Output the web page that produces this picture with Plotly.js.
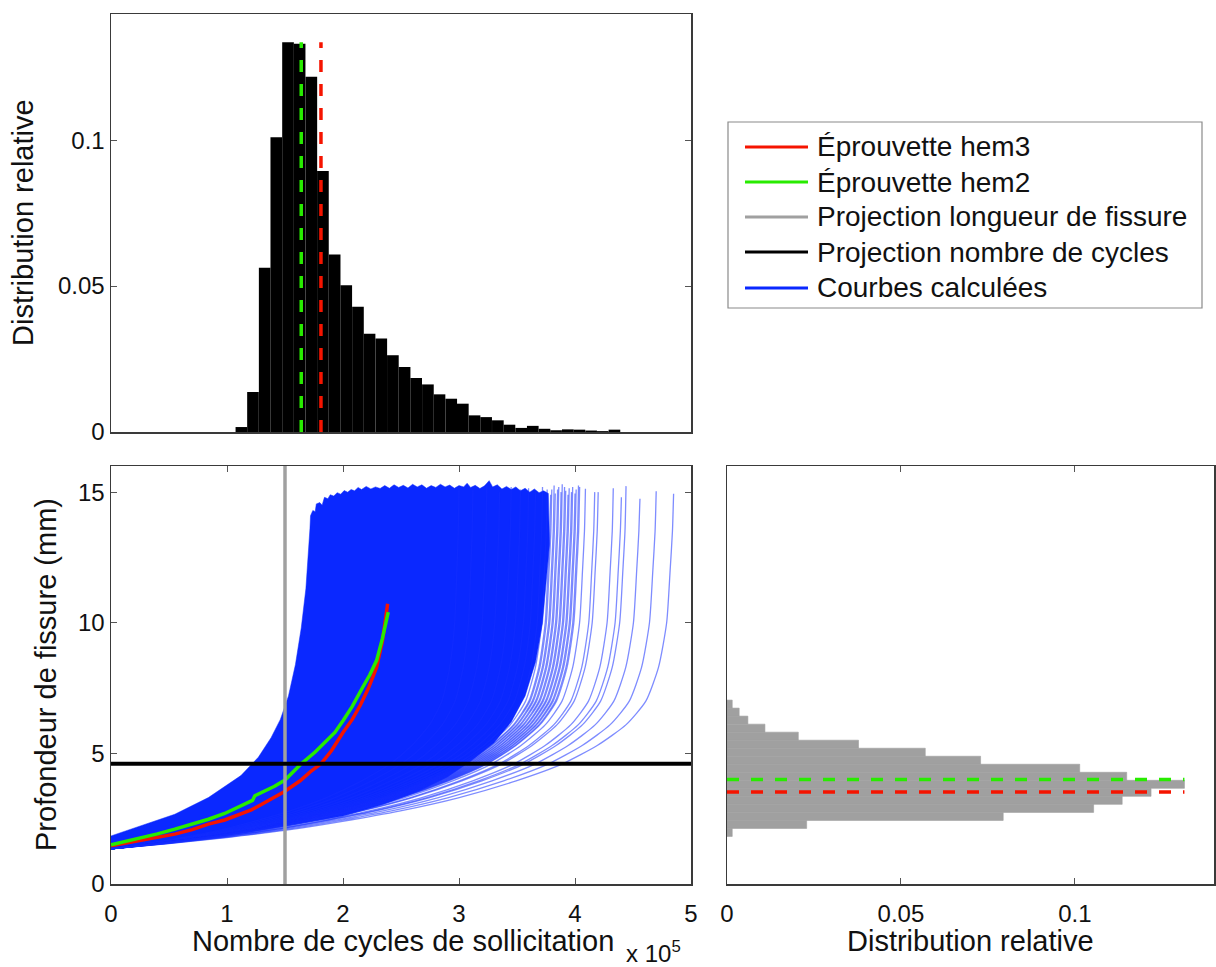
<!DOCTYPE html>
<html>
<head>
<meta charset="utf-8">
<script src="https://cdn.plot.ly/plotly-3.0.1.min.js"></script>
<style>html,body{margin:0;padding:0;background:#fff;}#chart{width:1216px;height:967px;}</style>
</head>
<body>
<div id="chart"></div>
<script>
// ---------- DATA (cycles in units of 1e5, depth in mm) ----------
// Top histogram: distribution of cycles at which curves reach the projection depth
const topBinCenters1e5 = [1.124,1.224,1.325,1.425,1.526,1.626,1.727,1.827,1.928,2.028,2.129,2.229,2.330,2.430,2.531,2.631,2.732,2.832,2.933,3.033,3.134,3.234,3.335,3.435,3.536,3.636,3.737,3.837,3.938,4.038,4.139,4.239,4.340];
const topRelDist = [0.0017,0.0137,0.0563,0.1010,0.1335,0.1330,0.1217,0.0894,0.0608,0.0503,0.0429,0.0337,0.0320,0.0263,0.0223,0.0185,0.0163,0.0129,0.0114,0.0097,0.0057,0.0051,0.0040,0.0025,0.0014,0.0021,0.0011,0.0006,0.0009,0.0008,0.0005,0.0003,0.0008];
const topBinWidth1e5 = 0.1005;

// Right histogram: distribution of crack depth at the projection cycle count
const rightBinCentersMm = [1.974,2.281,2.588,2.895,3.202,3.509,3.816,4.123,4.430,4.737,5.044,5.351,5.658,5.965,6.272,6.579,6.886];
const rightRelDist = [0.0015,0.0229,0.0794,0.1054,0.1136,0.1219,0.1315,0.1149,0.1014,0.0729,0.0570,0.0378,0.0205,0.0109,0.0060,0.0035,0.0015];
const rightBinWidthMm = 0.307;

// Projections
const projectionCycles1e5 = 1.5;   // gray vertical line
const projectionDepthMm = 4.6;     // black horizontal line
const hem3CyclesAtDepth = 1.81, hem2CyclesAtDepth = 1.64;
const hem3DepthAtCycles = 3.52, hem2DepthAtCycles = 4.00;

// Specimen curves
const hem3Cycles = [0,0.13,0.26,0.40,0.55,0.70,0.84,0.98,1.12,1.21,1.30,1.41,1.50,1.63,1.72,1.81,1.90,2.00,2.08,2.15,2.22,2.29,2.34,2.385];
const hem3Depth  = [1.46,1.56,1.68,1.78,1.91,2.08,2.29,2.45,2.67,2.84,3.05,3.31,3.55,3.95,4.30,4.60,5.10,5.80,6.30,6.85,7.50,8.30,9.30,10.73];
const hem2Cycles = [0,0.13,0.26,0.40,0.55,0.70,0.84,0.98,1.12,1.18,1.22,1.24,1.41,1.50,1.64,1.76,1.86,1.93,2.00,2.08,2.17,2.23,2.29,2.34,2.39];
const hem2Depth  = [1.50,1.63,1.78,1.92,2.10,2.28,2.48,2.70,2.99,3.10,3.20,3.38,3.74,3.98,4.60,5.05,5.49,5.80,6.25,6.80,7.53,8.00,8.56,9.40,10.41];

// Envelope of the dense bundle of calculated curves (outline)
const bundleCycles = [0,0.26,0.55,0.84,1.12,1.27,1.38,1.46,1.53,1.59,1.64,1.68,1.70,1.715,1.72,
  1.74,1.76,1.77,1.80,1.82,1.84,1.87,1.89,1.92,1.95,1.98,2.01,2.04,2.07,2.10,2.13,2.16,2.20,2.24,2.28,2.32,2.36,2.40,2.44,2.48,2.52,2.56,2.60,2.64,2.68,2.72,2.76,2.80,2.84,2.88,2.92,2.96,3.00,3.04,3.07,3.10,3.14,3.18,3.22,3.26,3.29,3.33,3.37,3.41,3.45,3.49,3.53,3.57,3.61,3.65,3.69,3.73,3.77,
  3.78,3.76,3.72,3.66,3.57,3.45,3.30,3.10,2.90,2.65,2.35,2.00,1.50,1.00,0.50,0];
const bundleDepth = [1.84,2.23,2.67,3.31,4.15,4.85,5.60,6.30,7.20,8.40,9.80,11.30,12.50,13.60,14.10,
  14.30,14.25,14.55,14.60,14.50,14.80,14.75,14.90,14.85,14.98,14.92,15.06,15.00,15.10,15.05,15.18,15.10,15.22,15.12,15.20,15.14,15.25,15.15,15.28,15.18,15.26,15.16,15.30,15.20,15.28,15.15,15.25,15.18,15.30,15.20,15.27,15.15,15.25,15.20,15.34,15.18,15.26,15.14,15.24,15.44,15.20,15.28,15.12,15.22,15.10,15.20,15.05,15.15,15.00,15.12,14.98,15.05,14.95,
  13.0,12.0,10.0,8.5,7.2,6.2,5.4,4.7,4.1,3.55,3.05,2.60,2.22,1.88,1.62,1.38];

// Shape of the slowest calculated curve
const slowCurveCycles = [0,0.5,1.0,1.5,2.0,2.5,3.0,3.5,3.9,4.2,4.45,4.62,4.73,4.80,4.83,4.85,4.86];
const slowCurveDepth  = [1.35,1.55,1.78,2.05,2.40,2.80,3.30,3.95,4.60,5.30,6.10,7.00,8.30,10.0,12.0,13.5,14.9];
// Individually visible curves on the right of the bundle: end cycles and end depth
const fringeEndCycles = [3.00,3.12,3.24,3.35,3.45,3.53,3.60,3.66,3.72,3.76,3.79,3.80,3.82,3.83,3.85,3.86,3.88,3.89,3.91,3.92,3.94,3.95,3.97,3.98,4.00,4.01,4.03,4.04,4.09,4.17,4.20,4.33,4.40,4.44,4.56,4.70,4.85];
const fringeEndDepth  = [15.2,15.1,15.25,15.0,15.2,15.1,15.15,15.0,15.2,15.1,14.9,15.1,15.25,14.95,15.1,15.2,15.0,15.3,15.2,15.05,14.9,15.15,15.0,15.2,14.95,15.1,15.25,15.2,15.13,15.0,15.0,15.15,14.8,15.23,14.75,15.03,14.94];

const legendLabels = ['Éprouvette hem3','Éprouvette hem2','Projection longueur de fissure','Projection nombre de cycles','Courbes calculées'];

// ---------- STYLE ----------
const RED = 'rgb(245,20,0)', GREEN = 'rgb(40,235,0)', GRAY = 'rgb(160,160,160)', BLUE = 'rgb(10,40,255)';
const FONT = 'Liberation Sans, Arial, Helvetica, sans-serif';
const W = 1216, H = 967;
const px = v => v / W, py = v => 1 - v / H;

const traces = [];
// Blue bundle
traces.push({type:'scatter', mode:'lines', x:bundleCycles, y:bundleDepth, fill:'toself',
  fillcolor:BLUE, line:{color:BLUE, width:0.5}, xaxis:'x', yaxis:'y', showlegend:false, hoverinfo:'skip'});
const tEnd = slowCurveCycles[slowCurveCycles.length-1];
fringeEndCycles.forEach((e, i) => {
  const xs = slowCurveCycles.map(c => c * e / tEnd);
  const ys = slowCurveDepth.slice(); ys[ys.length-1] = fringeEndDepth[i];
  traces.push({type:'scatter', mode:'lines', x:xs, y:ys, line:{color:'rgba(20,45,255,0.55)', width:1.3, shape:'spline', smoothing:0.6},
    xaxis:'x', yaxis:'y', showlegend:false, hoverinfo:'skip'});
});
// Specimen curves
traces.push({type:'scatter', mode:'lines', x:hem3Cycles, y:hem3Depth, line:{color:RED, width:3.5}, xaxis:'x', yaxis:'y', showlegend:false});
traces.push({type:'scatter', mode:'lines', x:hem2Cycles, y:hem2Depth, line:{color:GREEN, width:3.5}, xaxis:'x', yaxis:'y', showlegend:false});

// Top histogram
traces.push({type:'bar', x:topBinCenters1e5, y:topRelDist, width:topBinWidth1e5, marker:{color:'black', line:{width:0}},
  xaxis:'x2', yaxis:'y2', showlegend:false});
const topMax = Math.max(...topRelDist);
traces.push({type:'scatter', mode:'lines', x:[hem2CyclesAtDepth,hem2CyclesAtDepth], y:[0,topMax], line:{color:GREEN, width:3.5, dash:'12px,12px'}, xaxis:'x2', yaxis:'y2', showlegend:false});
traces.push({type:'scatter', mode:'lines', x:[hem3CyclesAtDepth,hem3CyclesAtDepth], y:[0,topMax], line:{color:RED, width:3.5, dash:'12px,12px'}, xaxis:'x2', yaxis:'y2', showlegend:false});

// Right histogram
traces.push({type:'bar', orientation:'h', y:rightBinCentersMm, x:rightRelDist, width:rightBinWidthMm, marker:{color:GRAY, line:{color:GRAY, width:0.6}},
  xaxis:'x3', yaxis:'y3', showlegend:false});
const rightMax = Math.max(...rightRelDist);
traces.push({type:'scatter', mode:'lines', y:[hem2DepthAtCycles,hem2DepthAtCycles], x:[0,rightMax], line:{color:GREEN, width:3.5, dash:'12px,12px'}, xaxis:'x3', yaxis:'y3', showlegend:false});
traces.push({type:'scatter', mode:'lines', y:[hem3DepthAtCycles,hem3DepthAtCycles], x:[0,rightMax], line:{color:RED, width:3.5, dash:'12px,12px'}, xaxis:'x3', yaxis:'y3', showlegend:false});

const axBase = {showline:true, linecolor:'#3a3a3a', linewidth:1.5, mirror:'ticks', ticks:'inside', ticklen:6, tickcolor:'#555',
  showgrid:false, zeroline:false, tickfont:{family:FONT, size:24, color:'#111'}, fixedrange:true};

const shapes = [
  {type:'line', xref:'x', yref:'y domain', x0:projectionCycles1e5, x1:projectionCycles1e5, y0:0, y1:1, line:{color:GRAY, width:3.5}},
  {type:'line', xref:'x domain', yref:'y', x0:0, x1:1, y0:projectionDepthMm, y1:projectionDepthMm, line:{color:'black', width:4}},
  {type:'rect', xref:'paper', yref:'paper', x0:px(728), x1:px(1202), y0:py(308), y1:py(122), line:{color:'#8a8a8a', width:1.2}, fillcolor:'white', layer:'below'}
];
const legendColors = [RED, GREEN, GRAY, 'black', BLUE];
const legendRows = [147, 182, 217, 252, 288];
const annotations = [];
legendLabels.forEach((t, i) => {
  shapes.push({type:'line', xref:'paper', yref:'paper', x0:px(745), x1:px(808), y0:py(legendRows[i]), y1:py(legendRows[i]), line:{color:legendColors[i], width:3}});
  annotations.push({xref:'paper', yref:'paper', x:px(815), y:py(legendRows[i]), xanchor:'left', yanchor:'middle', showarrow:false, text:t, font:{family:FONT, size:28, color:'#111'}});
});
const titleFont = {family:FONT, size:29, color:'#111'};
annotations.push({xref:'paper', yref:'paper', x:px(23), y:py(223), textangle:-90, showarrow:false, text:'Distribution relative', font:titleFont, xanchor:'center', yanchor:'middle'});
annotations.push({xref:'paper', yref:'paper', x:px(46), y:py(675), textangle:-90, showarrow:false, text:'Profondeur de fissure (mm)', font:titleFont, xanchor:'center', yanchor:'middle'});
annotations.push({xref:'paper', yref:'paper', x:px(403), y:py(941), showarrow:false, text:'Nombre de cycles de sollicitation', font:titleFont, xanchor:'center', yanchor:'middle'});
annotations.push({xref:'paper', yref:'paper', x:px(970), y:py(941), showarrow:false, text:'Distribution relative', font:titleFont, xanchor:'center', yanchor:'middle'});
annotations.push({xref:'paper', yref:'paper', x:px(624), y:py(952), showarrow:false, text:'x 10<sup>5</sup>', font:{family:FONT, size:24, color:'#111'}, xanchor:'left', yanchor:'middle'});

const layout = {
  width:W, height:H, margin:{l:0, r:0, t:0, b:0}, paper_bgcolor:'white', plot_bgcolor:'white', showlegend:false,
  font:{family:FONT},
  xaxis: Object.assign({}, axBase, {domain:[px(111), px(691)], anchor:'y', range:[0,5], tickvals:[0,1,2,3,4,5], ticktext:['0','1','2','3','4','5'], ticklabelstandoff:8}),
  yaxis: Object.assign({}, axBase, {domain:[py(884), py(466)], anchor:'x', range:[0,16], tickvals:[0,5,10,15], ticktext:['0','5','10','15']}),
  xaxis2: Object.assign({}, axBase, {domain:[px(111), px(691)], anchor:'y2', range:[0,5], showticklabels:false, ticks:''}),
  yaxis2: Object.assign({}, axBase, {domain:[py(432), py(14)], anchor:'x2', range:[0,0.1432], tickvals:[0,0.05,0.1], ticktext:['0','0.05','0.1']}),
  xaxis3: Object.assign({}, axBase, {domain:[px(727), px(1214)], anchor:'y3', range:[0,0.14], tickvals:[0,0.05,0.1], ticktext:['0','0.05','0.1'], ticklabelstandoff:8}),
  yaxis3: Object.assign({}, axBase, {domain:[py(884), py(466)], anchor:'x3', range:[0,16], showticklabels:false, ticks:''}),
  shapes: shapes, annotations: annotations
};
Plotly.newPlot('chart', traces, layout, {displayModeBar:false, staticPlot:true});
</script>
</body>
</html>
